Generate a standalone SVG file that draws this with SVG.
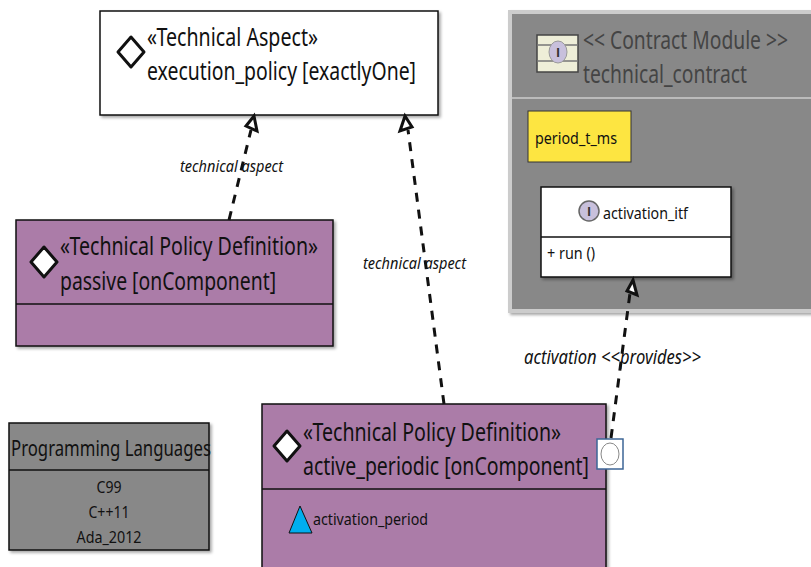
<svg xmlns="http://www.w3.org/2000/svg" width="811" height="567" viewBox="0 0 811 567">
<defs><filter id="s" x="-5%" y="-5%" width="112%" height="112%"><feDropShadow dx="2" dy="2" stdDeviation="1.5" flood-color="#000" flood-opacity=".35"/></filter></defs>
<style>
text{font-family:"Noto Sans","Open Sans",sans-serif;fill:#111}
.b{font-size:25px}.m{font-size:17px}.i{font-size:17px;font-style:italic}
.g{fill:#444}
.ic{font-family:"Liberation Sans",sans-serif;font-size:13px;font-weight:bold;fill:#333}
.n{stroke:#111;stroke-width:1.5}
.d{fill:#fff;stroke:#111;stroke-width:3;stroke-linejoin:round}
.c{fill:none;stroke:#111;stroke-width:3;stroke-dasharray:9 8}
.h{fill:#fff;stroke:#111;stroke-width:3}
</style>
<rect width="811" height="567" fill="#fff"/>
<g id="technical-aspect"><rect x="100" y="11" width="338" height="104" fill="#fff" class="n" filter="url(#s)"/><path d="M131 37L144 52L131 67L118 52Z" class="d"/><text x="147" y="46" class="b" textLength="171" lengthAdjust="spacingAndGlyphs">«Technical Aspect»</text><text x="147" y="80" class="b" textLength="269" lengthAdjust="spacingAndGlyphs">execution_policy [exactlyOne]</text></g>
<g id="contract-module"><rect x="510" y="12" width="310" height="299" fill="#888" stroke="#ccc" stroke-width="4" filter="url(#s)"/><path d="M512 98H811" stroke="#ccc" stroke-width="1.5"/><rect x="537" y="35" width="41" height="37" fill="#eeeed8" stroke="#444" stroke-width="1.5"/><path d="M537 45H578M537 61H578" stroke="#777" stroke-width="1.5"/><ellipse cx="558" cy="52" rx="9" ry="11" fill="#c8c0dc" stroke="#999"/><text x="558" y="57" class="ic" text-anchor="middle">I</text><text x="583" y="49" class="b g" textLength="205" lengthAdjust="spacingAndGlyphs">&lt;&lt; Contract Module &gt;&gt;</text><text x="583" y="83" class="b g" textLength="164" lengthAdjust="spacingAndGlyphs">technical_contract</text></g>
<g id="period-t-ms"><rect x="528" y="111" width="103" height="51" fill="#fde541" stroke="#333" stroke-width="1"/><text x="535" y="144" class="m" textLength="82" lengthAdjust="spacingAndGlyphs">period_t_ms</text></g>
<g id="activation-itf"><rect x="541" y="187" width="190" height="90" fill="#fff" class="n" filter="url(#s)"/><path d="M541 237H731" class="n"/><circle cx="589" cy="211" r="10" fill="#c8c0dc" stroke="#666" stroke-width="1.5"/><text x="589" y="216" class="ic" text-anchor="middle">I</text><text x="603" y="219" class="m" textLength="85" lengthAdjust="spacingAndGlyphs">activation_itf</text><text x="547" y="259" class="m" textLength="48" lengthAdjust="spacingAndGlyphs">+ run ()</text></g>
<g id="passive"><rect x="16" y="220" width="317" height="126" fill="#ab7ba8" class="n" filter="url(#s)"/><path d="M16 304H333" class="n"/><path d="M44 247L57 262L44 277L31 262Z" class="d"/><text x="60" y="255" class="b" textLength="258" lengthAdjust="spacingAndGlyphs">«Technical Policy Definition»</text><text x="60" y="290" class="b" textLength="216" lengthAdjust="spacingAndGlyphs">passive [onComponent]</text></g>
<g id="active-periodic"><rect x="262" y="404" width="344" height="170" fill="#ab7ba8" class="n" filter="url(#s)"/><path d="M262 489H606" class="n"/><path d="M287 431L300 446L287 461L274 446Z" class="d"/><text x="303" y="441" class="b" textLength="258" lengthAdjust="spacingAndGlyphs">«Technical Policy Definition»</text><text x="303" y="475" class="b" textLength="286" lengthAdjust="spacingAndGlyphs">active_periodic [onComponent]</text><path d="M300 506L312 533H289Z" fill="#00aeef" stroke="#111"/><text x="313" y="525" class="m" textLength="115" lengthAdjust="spacingAndGlyphs">activation_period</text></g>
<g id="port"><rect x="597" y="439" width="26" height="30" fill="#fff" stroke="#3d6596" stroke-width="1.5"/><ellipse cx="610" cy="454" rx="9" ry="11" fill="#fff" stroke="#888"/></g>
<g id="programming-languages"><rect x="9" y="423" width="200" height="127" fill="#888" class="n" filter="url(#s)"/><path d="M9 470H209" class="n"/><text x="11" y="456" font-size="21" textLength="200" lengthAdjust="spacingAndGlyphs">Programming Languages</text><text x="109" y="493" text-anchor="middle" class="m" textLength="25" lengthAdjust="spacingAndGlyphs">C99</text><text x="109" y="518" text-anchor="middle" class="m" textLength="41" lengthAdjust="spacingAndGlyphs">C++11</text><text x="109" y="543" text-anchor="middle" class="m" textLength="65" lengthAdjust="spacingAndGlyphs">Ada_2012</text></g>
<g id="connectors"><path d="M229 220L251 130" class="c"/><path d="M254 116L257 131L246 126Z" class="h"/><path d="M444 404L408 130" class="c"/><path d="M405 116L412 127L400 131Z" class="h"/><path d="M611 438L630 293" class="c"/><path d="M633 280L637 295L627 291Z" class="h"/></g>
<g id="labels"><text x="180" y="172" class="i" textLength="103" lengthAdjust="spacingAndGlyphs">technical aspect</text><text x="363" y="269" class="i" textLength="103" lengthAdjust="spacingAndGlyphs">technical aspect</text><text x="524" y="364" font-size="19" font-style="italic" textLength="177" lengthAdjust="spacingAndGlyphs">activation &lt;&lt;provides&gt;&gt;</text></g>
</svg>
